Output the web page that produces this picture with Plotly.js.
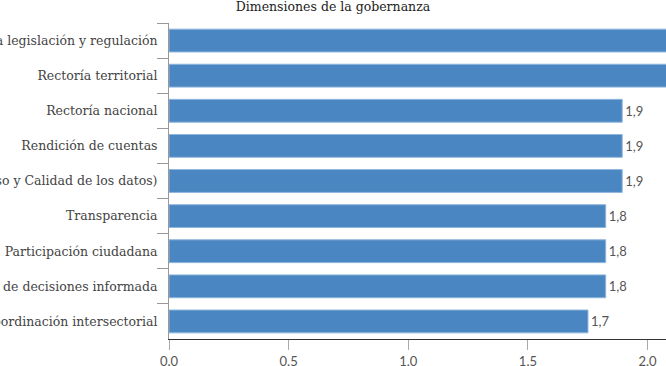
<!DOCTYPE html>
<html>
<head>
<meta charset="utf-8">
<script src="https://cdn.plot.ly/plotly-3.0.1.min.js"></script>
<style>html,body{margin:0;padding:0;background:#fff;}#chart{width:666px;height:366px;}</style>
</head>
<body>
<div id="chart"></div>
<script>
const categories = [
  "Calidad de la legislación y regulación",
  "Rectoría territorial",
  "Rectoría nacional",
  "Rendición de cuentas",
  "Gestión de datos (Acceso y Calidad de los datos)",
  "Transparencia",
  "Participación ciudadana",
  "Toma de decisiones informada",
  "Coordinación intersectorial"
];
const values = [2.15, 2.12, 1.894, 1.894, 1.894, 1.825, 1.825, 1.825, 1.751];
// labels of the two top bars fall outside the visible area in the reference
const valueLabels = ["", "", "1,9", "1,9", "1,9", "1,8", "1,8", "1,8", "1,7"];
const xTickVals = [0, 0.5, 1.0, 1.5, 2.0];
const xTickText = ["0.0", "0.5", "1.0", "1.5", "2.0"];

const trace = {
  type: 'bar',
  orientation: 'h',
  y: categories,
  x: values,
  text: valueLabels,
  textposition: 'outside',
  cliponaxis: true,
  textfont: {family: 'Lato, sans-serif', size: 13, color: '#555'},
  marker: {color: '#4a86c1', line: {color: '#8fb6de', width: 1}},
  hoverinfo: 'none'
};

const layout = {
  width: 666, height: 366,
  margin: {l: 169, r: 0, t: 23, b: 27},
  paper_bgcolor: '#fff', plot_bgcolor: '#fff',
  showlegend: false,
  bargap: 0.35,
  title: {
    text: 'Dimensiones de la gobernanza',
    x: 0.5, xref: 'container', xanchor: 'center', y: 0.995, yanchor: 'top',
    font: {family: 'DejaVu Serif, serif', size: 12.5, color: '#222'}
  },
  xaxis: {
    range: [0, 2.077],
    tickvals: xTickVals, ticktext: xTickText,
    showgrid: false, zeroline: false,
    showline: true, linecolor: '#333', linewidth: 1,
    ticks: 'outside', ticklen: 10, tickcolor: '#aaa',
    tickfont: {family: 'Lato, sans-serif', size: 13, color: '#555'}
  },
  yaxis: {
    autorange: 'reversed',
    tickson: 'boundaries',
    showgrid: false, zeroline: false,
    showline: true, linecolor: '#999', linewidth: 1,
    ticks: 'outside', ticklen: 11, tickcolor: '#999',
    ticklabelstandoff: 8,
    tickfont: {family: 'DejaVu Serif, serif', size: 12.5, color: '#444'}
  }
};

Plotly.newPlot('chart', [trace], layout, {staticPlot: true});
</script>
</body>
</html>
